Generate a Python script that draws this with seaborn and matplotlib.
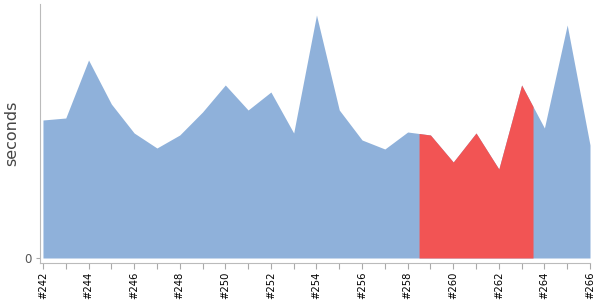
import numpy as np
import pandas as pd
import matplotlib
matplotlib.use("Agg")
import matplotlib.pyplot as plt
import seaborn as sns

builds = ["#%d" % b for b in range(242, 267)]
seconds = [138, 140, 198, 154, 125, 110, 123, 146, 173, 148, 166, 125, 243,
           148, 118, 109, 126, 123, 96, 125, 89, 173, 130, 233, 113]
highlight_from = "#259"
highlight_to = "#263"

blue = "#8FB1DA"
red = "#F25454"

sns.set_style("white")
df = pd.DataFrame({"build": builds, "seconds": seconds})
df["pos"] = np.arange(len(df))

fig = plt.figure(figsize=(6, 3), dpi=100)
ax = fig.add_axes([40 / 600, 1 - 263 / 300, 550 / 600, 259 / 300])

sns.lineplot(data=df, x="pos", y="seconds", ax=ax, linewidth=0, color=blue)
ax.fill_between(df["pos"], 0, df["seconds"], color=blue, linewidth=0)

i0 = builds.index(highlight_from)
i1 = builds.index(highlight_to)
hx = np.concatenate([[i0 - 0.5], df["pos"].values[i0:i1 + 1], [i1 + 0.5]])
hy = np.interp(hx, df["pos"], df["seconds"])
ax.fill_between(hx, 0, hy, color=red, linewidth=0)

ax.set_xlim(-0.13, len(df) - 1)
ax.set_ylim(-5, 254)

ax.set_xticks(df["pos"])
ax.set_xticklabels([b if i % 2 == 0 else "" for i, b in enumerate(builds)],
                   rotation=90, fontsize=7.2, color="black")
ax.set_yticks([0])
ax.set_yticklabels(["0"], fontsize=8.5, color="#555555")
ax.tick_params(axis="x", length=4, color="#aaaaaa", width=0.8, pad=2, bottom=True)
ax.tick_params(axis="y", length=3, color="#aaaaaa", width=0.8, pad=3, left=True)

for s in ["top", "right"]:
    ax.spines[s].set_visible(False)
for s in ["left", "bottom"]:
    ax.spines[s].set_color("#bbbbbb")
    ax.spines[s].set_linewidth(0.8)

ax.set_xlabel("")
ax.set_ylabel("seconds", fontsize=11.5, color="#444444")
ax.yaxis.set_label_coords(-0.038, 0.5)

fig.savefig("out.png", dpi=100)
